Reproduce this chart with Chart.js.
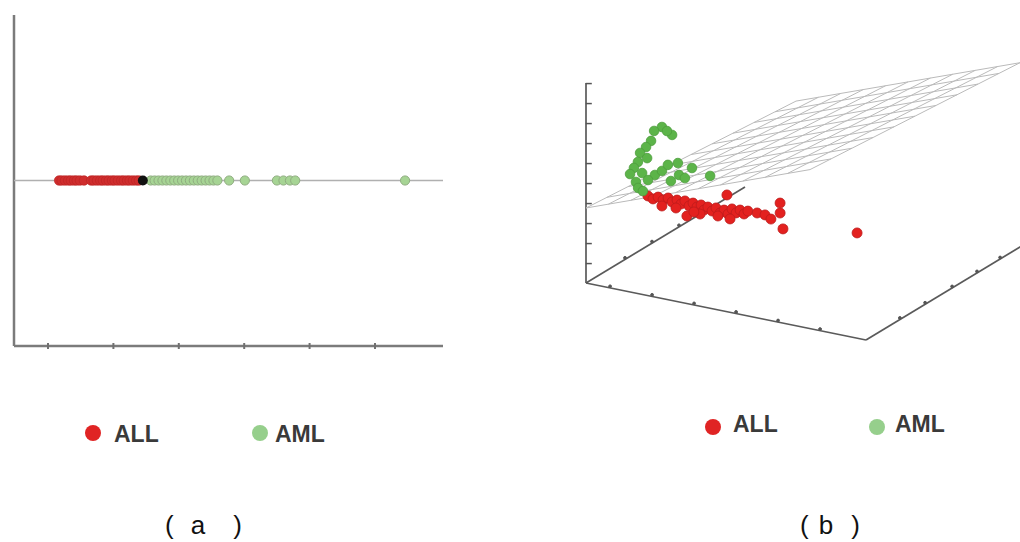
<!DOCTYPE html>
<html>
<head>
<meta charset="utf-8">
<script src="https://cdn.jsdelivr.net/npm/chart.js@4.4.1/dist/chart.umd.min.js"></script>
<style>
  html, body { margin: 0; padding: 0; background: #fff; }
  body { width: 1020px; height: 542px; position: relative; overflow: hidden;
         font-family: "Liberation Sans", Arial, sans-serif; }
  canvas { position: absolute; }
  #cA { left: 0; top: 0; }
  #cB { left: 560px; top: 40px; }
  .key { position: absolute; font-weight: bold; font-size: 23px; line-height: 1; color: #3a3a3a; white-space: pre; }
  .dot { position: absolute; width: 16px; height: 16px; border-radius: 50%; }
  .cap { position: absolute; font-size: 26px; line-height: 1; color: #111; white-space: pre; }
</style>
</head>
<body>
<canvas id="cA" width="460" height="360"></canvas>
<canvas id="cB" width="460" height="320"></canvas>

<div class="dot" style="left:85px;top:425px;background:#e02424"></div>
<div class="key" style="left:114px;top:423px">ALL</div>
<div class="dot" style="left:252px;top:425px;background:#96cf8c"></div>
<div class="key" style="left:275px;top:423px">AML</div>

<div class="dot" style="left:705px;top:419px;background:#e02424"></div>
<div class="key" style="left:733px;top:413px">ALL</div>
<div class="dot" style="left:869px;top:419px;background:#96cf8c"></div>
<div class="key" style="left:895px;top:413px">AML</div>

<div class="cap" style="left:165px;top:512px">(<span style="margin-left:17px">a</span><span style="margin-left:28px">)</span></div>
<div class="cap" style="left:800px;top:512px">(<span style="margin-left:10px">b</span><span style="margin-left:18px">)</span></div>

<script>
// ---------- (a) samples projected onto the discriminant direction ----------
const allScores = [0.17, 0.21, 0.26, 0.31, 0.35, 0.40, 0.44, 0.49, 0.55,
                   0.66, 0.70, 0.75, 0.80, 0.84, 0.89, 0.93, 0.98, 1.02, 1.07,
                   1.12, 1.16, 1.21, 1.25, 1.30, 1.35, 1.39];
const boundaryScore = [1.45];
const amlScores = [1.57, 1.63, 1.69, 1.75, 1.81, 1.87, 1.93, 1.99, 2.05, 2.11,
                   2.17, 2.23, 2.29, 2.35, 2.41, 2.47, 2.53, 2.59,
                   2.77, 3.01, 3.50, 3.60, 3.70, 3.78, 5.46];
const tickValuesA = [0, 1, 2, 3, 4, 5];
const rangeA = [-0.52, 6.04];
const lineLevel = 0.5;

// ---------- (b) three selected genes with the separating plane ----------
const allGene1 = [1.89, 1.75, 1.61, 2.43, 2.29, 2.11, 2.93, 2.75, 2.57, 3.36,
                  3.18, 3.00, 3.79, 3.57, 3.39, 4.18, 4.00, 3.82, 4.61, 4.43,
                  4.25, 5.04, 4.86, 4.68, 5.46, 2.96, 3.11, 4.39, 4.39, 4.18,
                  5.79, 5.75, 5.64, 6.61, 6.29, 6.07, 2.39, 2.57, 2.89, 9.36];
const allGene2 = [0.3, 0.6, 0.9, 0.3, 0.6, 0.9, 0.3, 0.6, 0.9, 0.3,
                  0.6, 0.9, 0.3, 0.6, 0.9, 0.3, 0.6, 0.9, 0.3, 0.6,
                  0.9, 0.3, 0.6, 0.9, 0.3, 0.6, 0.9, 0.3, 0.6, 0.9,
                  0.3, 0.6, 0.9, 0.3, 0.6, 0.9, 0.3, 0.6, 0.9, 0.3];
const allGene3 = [4.62, 4.16, 3.94, 4.57, 4.36, 3.84, 4.71, 4.19, 4.02, 4.54,
                  4.36, 3.84, 4.71, 4.12, 3.95, 4.52, 4.35, 3.77, 4.69, 4.17,
                  4.10, 4.67, 4.49, 3.97, 4.88, 3.65, 3.52, 4.33, 5.11, 3.58,
                  4.88, 4.50, 3.99, 5.61, 4.75, 3.62, 4.26, 3.94, 3.56, 4.90];

const amlGene1 = [2.39, 1.79, 2.11, 2.57, 1.68, 1.18, 1.61, 1.54, 0.89, 1.39,
                  0.93, 1.04, 2.14, 2.07, 1.96, 2.96, 2.68, 2.82, 2.71, 3.79,
                  0.82, 1.54, 1.39, 1.25, 3.21];
const amlGene2 = [0.3, 0.6, 0.9, 0.3, 0.6, 0.9, 0.3, 0.6, 0.9, 0.3,
                  0.6, 0.9, 0.3, 0.6, 0.9, 0.3, 0.6, 0.9, 0.3, 0.6,
                  0.9, 0.3, 0.6, 0.9, 0.3];
const amlGene3 = [8.21, 7.57, 7.19, 8.06, 7.04, 6.32, 6.69, 6.14, 5.49, 5.88,
                  5.17, 4.98, 5.74, 5.65, 5.65, 6.57, 5.62, 5.74, 5.60, 5.89,
                  4.47, 4.92, 4.45, 4.69, 5.89];

// separating plane: gene3 = c0 + c1*gene1 + c2*gene2
const planeCoef = [3.75, 0.525, -0.1414];
const planeGrid1 = [0, 0.8, 1.6, 2.4, 3.2, 4.0, 4.8, 5.6, 6.4, 7.2, 8.0];
const planeGrid2 = [0, 0.7, 1.4, 2.1, 2.8, 3.5, 4.2, 4.9, 5.6, 6.3, 7.0];

const boxMax = 10;
const gene3Ticks = [1, 2, 3, 4, 5, 6, 7, 8, 9, 10];
const gene1Ticks = [0.86, 2.36, 3.86, 5.36, 6.86, 8.36];
const gene2TicksFar = [1.13, 1.97, 2.87, 3.70, 4.47];
const gene2TicksNear = [1.3, 2.2, 3.1, 4.0];
const gene2NearLength = 5.3;

// oblique view of the gene space
const view = { e1: [28, -5.7], e2: [30, 18.1], e3: [0, 20] };
function project(g1, g2, g3) {
  return {
    x: view.e1[0] * g1 + view.e2[0] * g2 + view.e3[0] * g3,
    y: view.e1[1] * g1 + view.e2[1] * g2 + view.e3[1] * g3
  };
}
const planeAt = (g1, g2) => planeCoef[0] + planeCoef[1] * g1 + planeCoef[2] * g2;

function segment(points, color, width, order) {
  return { data: points, showLine: true, borderColor: color, borderWidth: width,
           pointRadius: 0, pointHoverRadius: 0, fill: false, tension: 0, clip: false, order };
}
function marks(points, color, style, rotation, radius, width, order) {
  return { data: points, showLine: false, pointStyle: style, rotation,
           pointRadius: radius, pointHoverRadius: radius, borderColor: color,
           backgroundColor: color, pointBorderWidth: width, clip: false, order };
}

const baseOptions = {
  responsive: false, animation: false, events: [],
  plugins: { legend: { display: false }, tooltip: { enabled: false } }
};

// ---------- chart (a) ----------
const onLine = v => ({ x: v, y: lineLevel });
new Chart(document.getElementById('cA'), {
  type: 'scatter',
  data: {
    datasets: [
      { label: 'boundary', data: boundaryScore.map(onLine), pointRadius: 5,
        backgroundColor: '#111', borderColor: '#111', borderWidth: 0, clip: false, order: 0 },
      { label: 'ALL', data: allScores.map(onLine), pointRadius: 4.8,
        backgroundColor: '#cf2d2d', borderColor: '#b82424', borderWidth: 0.6, clip: false, order: 1 },
      { label: 'AML', data: amlScores.map(onLine), pointRadius: 4.6,
        backgroundColor: '#a6d494', borderColor: '#8fac80', borderWidth: 1, clip: false, order: 2 },
      segment([{ x: rangeA[0], y: lineLevel }, { x: rangeA[1], y: lineLevel }], '#b0b0b0', 1.3, 5),
      segment([{ x: rangeA[0], y: 0 }, { x: rangeA[1], y: 0 }], '#7b7b7b', 2.5, 6),
      segment([{ x: rangeA[0], y: 0 }, { x: rangeA[0], y: 1 }], '#7b7b7b', 2.5, 6),
      marks(tickValuesA.map(v => ({ x: v, y: 0 })), '#707070', 'line', 90, 3, 2, 4)
    ]
  },
  options: Object.assign({}, baseOptions, {
    layout: { autoPadding: false, padding: { left: 14, top: 15, right: 17, bottom: 14 } },
    scales: {
      x: { type: 'linear', display: false, min: rangeA[0], max: rangeA[1] },
      y: { type: 'linear', display: false, min: 0, max: 1 }
    }
  })
});

// ---------- chart (b) ----------
const datasetsB = [];
const allPts = allGene1.map((g, i) => project(g, allGene2[i], allGene3[i]));
const amlPts = amlGene1.map((g, i) => project(g, amlGene2[i], amlGene3[i]));
datasetsB.push({ label: 'AML', data: amlPts, pointRadius: 4.8, backgroundColor: '#5cb449',
                 borderColor: '#4d9d3c', borderWidth: 0.8, clip: false, order: 0 });
datasetsB.push({ label: 'ALL', data: allPts, pointRadius: 5, backgroundColor: '#e3211f',
                 borderColor: '#bd1c1c', borderWidth: 0.8, clip: false, order: 1 });

const g1Lo = planeGrid1[0], g1Hi = planeGrid1[planeGrid1.length - 1];
const g2Lo = planeGrid2[0], g2Hi = planeGrid2[planeGrid2.length - 1];
planeGrid1.forEach(g1 => datasetsB.push(segment(
  [project(g1, g2Lo, planeAt(g1, g2Lo)), project(g1, g2Hi, planeAt(g1, g2Hi))], '#bababa', 1, 10)));
planeGrid2.forEach(g2 => datasetsB.push(segment(
  [project(g1Lo, g2, planeAt(g1Lo, g2)), project(g1Hi, g2, planeAt(g1Hi, g2))], '#bababa', 1, 10)));

// box edges
datasetsB.push(segment([project(0, 0, 0), project(0, 0, boxMax)], '#5a5a5a', 1.7, 12));
datasetsB.push(segment([project(0, 0, 0), project(boxMax, 0, 0)], '#5a5a5a', 1.7, 12));
datasetsB.push(segment([project(boxMax, 0, 0), project(boxMax, boxMax, 0)], '#5a5a5a', 1.7, 12));
datasetsB.push(segment([project(0, 0, 0), project(0, gene2NearLength, 0)], '#5a5a5a', 1.7, 12));

// tick marks
datasetsB.push(marks(gene3Ticks.map(t => project(0.1, 0, t)), '#555', 'line', 0, 3, 1.5, 11));
datasetsB.push(marks(gene1Ticks.map(t => project(t, 0, 0.08)), '#555', 'circle', 0, 1.4, 1, 11));
datasetsB.push(marks(gene2TicksFar.map(t => project(boxMax, t, 0.08)), '#555', 'circle', 0, 1.4, 1, 11));
datasetsB.push(marks(gene2TicksNear.map(t => project(0, t, 0.08)), '#555', 'circle', 0, 1.4, 1, 11));

new Chart(document.getElementById('cB'), {
  type: 'scatter',
  data: { datasets: datasetsB },
  options: Object.assign({}, baseOptions, {
    layout: { autoPadding: false, padding: 0 },
    scales: {
      x: { type: 'linear', display: false, min: -26, max: 434 },
      y: { type: 'linear', display: false, min: -77, max: 243 }
    }
  })
});
</script>
</body>
</html>
